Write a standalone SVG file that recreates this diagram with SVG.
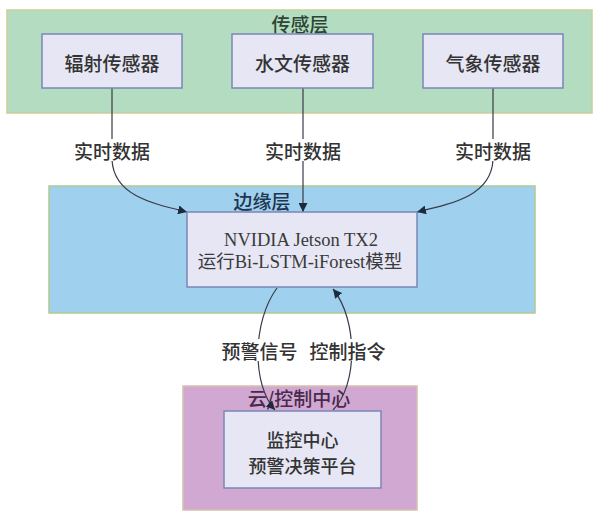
<svg xmlns="http://www.w3.org/2000/svg" width="595" height="511" viewBox="0 0 595 511">
<defs>
<marker id="arr" viewBox="0 0 10 10" refX="10" refY="5" markerWidth="9" markerHeight="9" markerUnits="userSpaceOnUse" orient="auto">
<path d="M0,0 L10,5 L0,10 z" fill="#1c2b3e"/>
</marker>
<style>
.layer{stroke-width:1.5}
.box{fill:#e6e6f4;stroke:#7b86b6;stroke-width:1.5}
.cjk{font-family:"Noto Sans CJK SC","Noto Sans",sans-serif;font-weight:500;fill:#333;dominant-baseline:central;text-anchor:middle}
.ser{font-family:"Liberation Serif","Noto Sans CJK SC",serif;font-size:18.5px;fill:#3a3a3a;text-anchor:middle}
.conn{fill:none;stroke:#3a3a48;stroke-width:1.2;marker-end:url(#arr)}
.lbl{fill:#fff}
</style>
</defs>
<g id="sensor-layer">
<rect class="layer" x="7" y="10" width="585" height="103" fill="#b3dcc0" stroke="#c9cf98"/>
<text class="cjk" x="300" y="23" font-size="19" style="fill:#2c4536">传感层</text>
</g>
<g id="edge-layer">
<rect class="layer" x="49" y="186" width="486" height="127" fill="#9fd0ee" stroke="#b3c992"/>
<text class="cjk" x="262" y="200" font-size="19" style="fill:#1f3550">边缘层</text>
</g>
<g id="cloud-layer">
<rect class="layer" x="183" y="386" width="234" height="124" fill="#d0a8d2" stroke="#d6c0ac"/>
<text class="cjk" x="299" y="397" font-size="19" style="fill:#4a2a4c">云/控制中心</text>
</g>
<g id="connectors">
<path class="conn" d="M112,88 V160 C114,195 150,203 187,212"/>
<path class="conn" d="M303,88 V212"/>
<path class="conn" d="M493,88 V160 C491,195 455,203 417,212"/>
<path class="conn" d="M277,288 C252,322 252,385 275,410"/>
<path class="conn" d="M333,410 C358,385 358,320 333,289"/>
</g>
<g id="label-data1"><rect class="lbl" x="71" y="139" width="82" height="22"/><text class="cjk" x="112" y="150" font-size="19">实时数据</text></g>
<g id="label-data2"><rect class="lbl" x="262" y="139" width="82" height="22"/><text class="cjk" x="303" y="150" font-size="19">实时数据</text></g>
<g id="label-data3"><rect class="lbl" x="452" y="139" width="82" height="22"/><text class="cjk" x="493" y="150" font-size="19">实时数据</text></g>
<g id="label-warn"><rect class="lbl" x="219" y="339" width="81" height="22"/><text class="cjk" x="259.5" y="350" font-size="19">预警信号</text></g>
<g id="label-ctrl"><rect class="lbl" x="307" y="339" width="81" height="22"/><text class="cjk" x="347.5" y="350" font-size="19">控制指令</text></g>
<g id="radiation-sensor">
<rect class="box" x="42" y="34" width="140" height="54"/>
<text class="cjk" x="112" y="62" font-size="19">辐射传感器</text>
</g>
<g id="hydro-sensor">
<rect class="box" x="232" y="34" width="141" height="54"/>
<text class="cjk" x="302.5" y="62" font-size="19">水文传感器</text>
</g>
<g id="weather-sensor">
<rect class="box" x="423" y="34" width="140" height="54"/>
<text class="cjk" x="493" y="62" font-size="19">气象传感器</text>
</g>
<g id="jetson">
<rect class="box" x="187" y="212" width="230" height="75"/>
<text class="ser"><tspan x="301" y="246">NVIDIA Jetson TX2</tspan><tspan x="300" y="268">运行Bi-LSTM-iForest模型</tspan></text>
</g>
<g id="monitor">
<rect class="box" x="224" y="411" width="157" height="77"/>
<text class="cjk" font-size="18"><tspan x="302.5" y="438.5">监控中心</tspan><tspan x="302.5" y="465">预警决策平台</tspan></text>
</g>
</svg>
